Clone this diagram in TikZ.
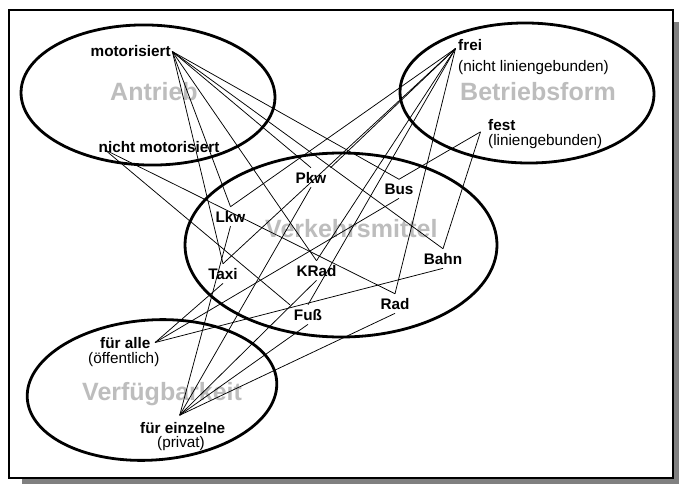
\documentclass[tikz,border=0pt]{standalone}
\usepackage{fontspec}
\setmainfont{Liberation Sans}
\definecolor{titlegray}{gray}{0.74}
\definecolor{shadowgray}{gray}{0.5}
\begin{document}
\begin{tikzpicture}[x=1pt,y=-1pt,
  hub/.style={font=\bfseries\fontsize{15.3}{18}\selectfont, inner sep=1.5pt, anchor=base west},
  vehicle/.style={font=\bfseries\fontsize{15.3}{18}\selectfont, inner sep=4pt, anchor=base},
  note/.style={font=\fontsize{15.3}{18}\selectfont, inner sep=0pt, anchor=base west},
  title/.style={font=\bfseries\fontsize{25}{30}\selectfont, text=titlegray, inner sep=0pt, anchor=base west},
  region/.style={line width=2.8pt},
  link/.style={line width=0.75pt}
]
\useasboundingbox (0,0) rectangle (679,484);

% page frame with drop shadow
\fill[shadowgray] (22,22) rectangle (679,484);
\draw[line width=2.5pt, fill=white] (9,10) rectangle (673,478);

% category titles
\node[title] (tA) at (110,100) {Antrieb};
\node[title] (tB) at (460,100) {Betriebsform};
\node[title] (tV) at (265,237) {Verkehrsmittel};
\node[title] (tF) at (82,400) {Verfügbarkeit};

% attribute values
\node[hub] (mot) at (89,57) {motorisiert};
\node[hub] (nmot) at (97,152) {nicht motorisiert};
\node[hub] (frei) at (456.5,51) {frei};
\node[note] (freinote) at (458,72) {(nicht liniengebunden)};
\node[hub] (fest) at (486.5,130) {fest};
\node[note] (festnote) at (488,145) {(liniengebunden)};
\node[hub] (alle) at (98.5,348) {für alle};
\node[note] (allenote) at (88,363) {(öffentlich)};
\node[hub] (einz) at (138.5,433) {für einzelne};
\node[note] (einznote) at (157,447) {(privat)};

% line start points at the attribute values
\coordinate (mothub) at (mot.east);
\coordinate (nmothub) at ([xshift=8pt,yshift=4pt]nmot.south west);
\coordinate (freihub) at ([xshift=-1pt,yshift=-3pt]frei.west);
\coordinate (festhub) at ([xshift=-6pt]fest.south west);
\coordinate (allehub) at ([xshift=3pt]alle.east);
\coordinate (einzhub) at ([xshift=-3pt,yshift=5pt]einz.north);

% means of transport
\node[vehicle] (pkw) at (311,183) {Pkw};
\node[vehicle] (lkw) at (230.5,222) {Lkw};
\node[vehicle] (bus) at (399,194) {Bus};
\node[vehicle] (taxi) at (223,279) {Taxi};
\node[vehicle] (krad) at (316.5,276) {KRad};
\node[vehicle] (bahn) at (443,264) {Bahn};
\node[vehicle] (fuss) at (308,320) {Fuß};
\node[vehicle] (rad) at (395,309) {Rad};

% Antrieb
\foreach \v in {pkw,lkw,bus,taxi,krad,bahn}
  \draw[link] (mothub) -- (\v.north);
\draw[link] (nmothub) -- (fuss.north west);
\draw[link] (nmothub) -- (rad.north);

% Betriebsform
\draw[link] (freihub) -- (pkw.north east);
\foreach \v in {lkw,taxi,krad,fuss,rad}
  \draw[link] (freihub) -- (\v.north);
\foreach \v in {bus,bahn}
  \draw[link] (festhub) -- (\v.north);

% Verfuegbarkeit
\foreach \v in {taxi,bus,bahn}
  \draw[link] (allehub) -- (\v.south);
\foreach \v in {pkw,lkw,krad,fuss,rad}
  \draw[link] (einzhub) -- (\v.south);

% category regions
\draw[region, rotate around={-1.5:(148,95)}] (148,95) ellipse [x radius=127, y radius=70];
\draw[region, rotate around={-0.7:(527,93)}] (527,93) ellipse [x radius=127, y radius=70];
\draw[region] (341,245) ellipse [x radius=156, y radius=92];
\draw[region, rotate around={4:(152,390)}] (152,390) ellipse [x radius=125, y radius=70];
\end{tikzpicture}
\end{document}
